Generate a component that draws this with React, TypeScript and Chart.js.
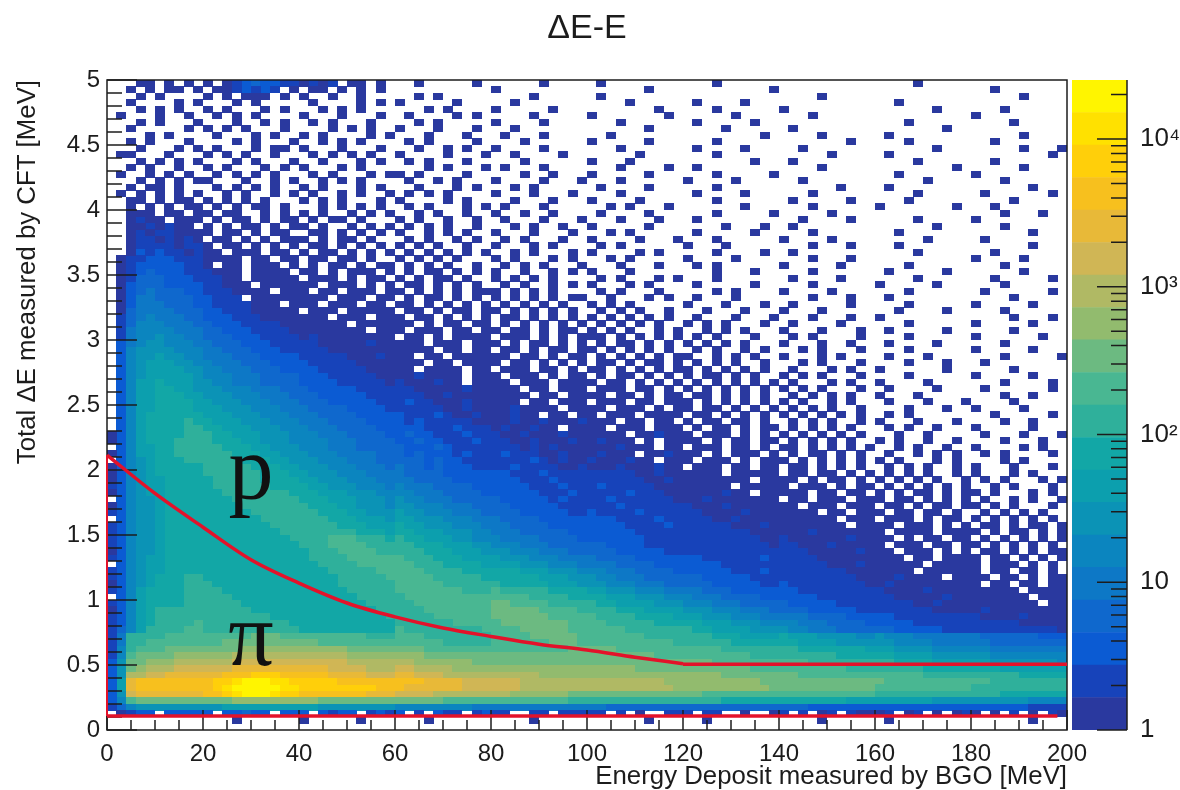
import React, { useEffect, useRef } from "react";
import { Chart, registerables } from "chart.js";

Chart.register(...registerables);

const TITLE = "\u0394E-E";
const X_TITLE = "Energy Deposit measured by BGO [MeV]";
const Y_TITLE = "Total \u0394E measured by CFT [MeV]";
const FONT = "'Liberation Sans', Arial, sans-serif";
const INK = "#1c1c1c";

// colour bands of the z axis, low to high
const BAND_COLORS = ["#2a399f","#1743ba","#0b5bd3","#0f68cd","#0d78c6","#0b85bf","#0b93b6","#0c9fae","#12a7a6","#2fb09b","#49b792","#6cba81","#92bb6e","#b0b964","#d0b655","#e8b938","#f7c01e","#ffcf0a","#ffe100","#fff500"];
const BAND_EDGES = [1,1.66,2.75,4.57,7.59,12.6,20.9,34.7,57.5,95.5,158,263,437,724,1202,1995,3311,5495,9120,15136,25119];
const BAND_CHARS = "123456789abcdefghijk";
const Z_DECADES = [1,10,100,1000,10000];
const Z_LABELS = ["1","10","10\u00b2","10\u00b3","10\u2074"];
const Z_MINORS = [2,3,4,5,6,7,8,9,20,30,40,50,60,70,80,90,200,300,400,500,600,700,800,900,2000,3000,4000,5000,6000,7000,8000,9000,20000];

const X_TICKS_MAJOR = [0,20,40,60,80,100,120,140,160,180,200];
const X_TICKS_MINOR = [5,10,15,25,30,35,45,50,55,65,70,75,85,90,95,105,110,115,125,130,135,145,150,155,165,170,175,185,190,195];
const Y_TICKS_MAJOR = [0,0.5,1,1.5,2,2.5,3,3.5,4,4.5,5];
const Y_TICKS_MINOR = [0.1,0.2,0.3,0.4,0.6,0.7,0.8,0.9,1.1,1.2,1.3,1.4,1.6,1.7,1.8,1.9,2.1,2.2,2.3,2.4,2.6,2.7,2.8,2.9,3.1,3.2,3.3,3.4,3.6,3.7,3.8,3.9,4.1,4.2,4.3,4.4,4.6,4.7,4.8,4.9];

const CURVE_X = [0,10,20,30,40,50,60,70,80,90,100,110,120];
const CURVE_Y = [2.115,1.82,1.56,1.31,1.13,0.977,0.87,0.785,0.72,0.66,0.615,0.56,0.51];
const FLAT_X = [120,200];
const FLAT_Y = [0.505,0.505];
const FLOOR_X = [0,198];
const FLOOR_Y = [0.108,0.108];
const EDGE_X = [0,0];
const EDGE_Y = [0.108,2.115];

const BIN_X = 2;
const BIN_Y = 0.05;
// one string per row of the histogram, from y=5 down to y=0; one character per 2 MeV bin
const ROWS = [
"...11.1.1. 1.12343322 1212.11.1. ..1.....1. .....1.... .1........ ...1...... .......... ....1..... ..........",
"..1.1.11.1 .1123232.1 .11.1.1.1. .......... 1......... ......1... .........1 .......... .......... ..1.......",
"...1.1.... 1.1.111.1. 1..1..1... ..1.1..... ....1..... .1........ .......... ....1..... .......... .....1....",
"..1....1.1 ...1.1.... .1....1.1. 1.....1... ..1....... ....1..... .1....1... .......... ..1....... ..........",
"...1.1.1.. 1.1...1.1. ..1.1.1... ...1.1.... 1.....1... .......1.. ...1...... 1......... ......1... ...1......",
".1...1..1. .1.1.1.... 1...1...1. .1....1.1. ....1..... 1.......1. .....1.... ...1...... .......... 1.........",
"...1.1...1 ...1..1.1. .1.1...1.. ..1.1..... 1....1.... ...1...... .1.....1.. .......... ...1...... ....1.....",
"..1.....1. 1.1.1...1. ...1.1.1.. 1...1...1. ..1....... ......1... ....1..... .1........ .......1.. ..........",
"....1.1... .1...1.1.. 1.1....1.1 ...1...1.. .1...1.... ..1....... ........1. ....1..... .1........ .....1....",
"..1.1...1. ...1.1...1 ..1.1.1... .1.1....1. ...1...... 1.....1... ...1...... .......1.. ...1...... ..1.......",
"...1...1.1 .1...1.11. 1...1...1. ..1..1.1.. 1....1.... ...1...... .1....1... ..1....... ......1... .....1...1",
".11...1... 1.1.1..1.. .1.1.1.1.. 1....1...1 ..1....1.. .....1.... ...1...... .....1.... .1........ ........1.",
"...1.1.1.1 ...1.1...1 ..1...1.1. .1.1...1.. ...1...... 1...1..... .......1.. .1........ ....1..... ..1.......",
"..1.1..1.. 1.1...1.1. 1...1.1... ...1.1...1 .1...1.... ...1....1. .1........ ....1..... ........1. .....1....",
".1..1.1.1. .1.1.1.1.. .1.1...1.1 1.1....1.. ...1..1... 1.....1... ...1.....1 .......... ..1....... 1.........",
"...1.1.1.1 1...1..1.1 ..1.1.1... .1..1.1... 1....1...1 ...1...... 1....1.... ..1....... .....1.... ...1......",
"..1.11.1.. .1.1.1.1.. 1.1...1.1. ..1...1.1. ..1.1..... .1....1... ...1...... ......1... .1........ ......1...",
".1.1.1.1.1 ..1.1..1.1 .1..1.1..1 .1.1.1.... 1...1...1. ...1...... .1....1... ...1...... ....1..... .1......1.",
"..11.1.11. 1.1.1.1... 1.1.1...1. 1....1.1.. ..1...1... 1....1.... ...1...... .1.....1.. ...1...... ....1.....",
"..1.1.1.11 .1.1.11.1. ..1.1.1.1. .1.1...1.1 .1...1.... ..1.1...1. ......1... ...1...... 1.......1. ..1.......",
"..111.11.1 1.11..1.1. 1.1..1.1.1 ..1.1..1.. 1..1..1... .1....1... ...1.....1 .....1.... .......... ...1...1..",
"..1211.111 .1.11.1.11 .1.11.1... 1.1..1..1. .1...1...1 ...1...1.. .1........ ..1....1.. ....1..... 1.........",
"..1121211. 1.1.11.1.1 1.1..1.1.1 .1.1.1..1. ..1.1..1.. 1.....1... ....1...1. .1........ ......1... ...1......",
"..12122111 1.11.1.11. .11.1.1.1. 1..1.1.1.. 1...1...1. ..1.1..... .1.....1.. ...1...... ..1....... ......1...",
"..12212121 .11.1.1.11 1.1.11.1.. .1.1..1.1. .1.1...1.. 1....1...1 ...1...... 1....1.... .....1.... .1........",
"..12222122 1.11.1.1.1 .11.1.1.1. 1.1.1..1.. 1...1.1... .1.1...... 1...1..... ...1...1.. ..1....... ......1...",
"..13232212 11.111.11. 1.11.1.1.1 .1.1.1.1.1 ..1.1...1. 1....1.1.. ...1....1. .1........ ....1..... ..1.......",
".122333222 1111.11.11 .11.11.1.. 1.1.1.1... 1.1...1.1. ..1.1..... 1....1.... ...1...1.. .......... 1....1....",
".123333322 1.11.111.1 .1.11.1.11 .1.1.1..1. .1.1.1...1 ...1...1.. .1.1...... 1.....1... ...1...... ...1......",
".123433322 2111.1111. 11.1.111.1 .1.11.1.1. 1..1..1.1. 1...1..... ...1...1.. ...1...... .1.....1.. .....1....",
".124443332 2211.11111 .111.1.11. 1.1.11.1.. 1.1.1.1... .1.1...1.1 ...1...... .1....1... ....1..... ..1.....1.",
".134443333 22111.1111 11.111.1.1 .11.1.1.1. .1.1..1.1. 1...1.1... .1.....1.. ...1...... 1.....1... ...1......",
".134544433 2221111.11 1.11.111.1 1.1.1.1.11 1.1.1.1... .1.1...1.. ...1.1.... 1....1.... ...1...... .1......1.",
".135544443 3222.11111 111.111.11 .1.11.1.1. 1.1.1.1.11 ..1...1.1. .1...1.... ...1...1.. .1........ ....1.....",
".135554443 32222111.1 11.111.11. 11.1.1.1.1 .1.1.1.1.. 1.1.1..... 1...1...1. .1.....1.. ...1...... 1.....1...",
".145555444 3322211111 .111.11111 .11.1.11.1 1.1.1.1.1. .1.1.1..1. ..1...1... 1...1..... ..1....1.. ...1......",
".245655544 3332221111 111.111.11 1.11.1.1.1 .11.1.1.1. 1.1.1.1.1. .1...1...1 ...1...1.. 1......... ....1...1.",
".246665554 4333222211 11111.1111 11.1.11.11 .1.1.1.1.1 .1.1.1.1.. 1.1.1...1. .1....1... ...1...... 1.....1...",
".256666555 4433322221 1111111.11 1.111.11.1 1.11.1.11. 1.1.1..1.1 ..1.1.1... 1...1...1. .1.....1.. ....1.....",
".256676655 4443332222 1211111111 .11.1.1111 .111.1.1.1 11.1.1.1.1 .1.1...1.. .1.1....1. ...1...... 1......1..",
".356776665 5444333222 2211111211 111.111.11 1.1.11.1.1 .1.11.1.1. 1.1.1.1... 1...1..1.. .1....1... ...1......",
".367777666 5544433322 2221111111 1111.11.11 .11.1.11.1 1.1.1.1.1. .1.1..1.1. ..1.1...1. ...1...... 1.....1...",
".367787766 5554443333 2222211121 11.11.1111 11.11.1.11 .1.1.1.1.1 1..1.1.1.. 1...1.1... .1...1.... ...1.....1",
".367888776 6555444333 3222221111 111.11.111 1.11.1.1.1 .11.1.11.1 .1.1.1..1. ..1.1...1. ...1...1.. .1........",
".367888877 6655544433 3322222111 11.1111.11 .111.11.1. 11.1.1.1.1 1.1.1.1.1. .1...1.1.. 1......1.. ....1.....",
".367888887 6665554444 3332222211 1121111.11 1.111.1.11 .1.11.1.1. 1.11.1.1.. 1.1.1...1. ...1...... 1.....1...",
".368898887 7665554444 3333222221 2111211.11 11.111.111 1.11.1.1.1 .1.1.1.1.1 .1...1.1.. 1....1.... ...1....1.",
".368899887 7766655544 4333332222 2211111211 111.11.111 .111.11.1. 1.1.1.1.1. 1.1.1...1. .1....1... .1......1.",
".368899988 7776665554 4433333222 2221121111 1111.11.11 11.11.1.11 .11.1.1.1. .1.1.1.1.. 1...1..... ...1..1...",
".368899998 8777666555 4443333322 2322111211 111.11.111 .111.11.11 1.1.1.1.1. 1.1..1.1.. .1...1...1 ....1.....",
".368899998 8877766655 5444433332 2222211211 1121111.11 11.111.1.1 1.11.1.1.1 .1.1.1..1. ...1...1.. 1....1....",
".368999999 8887776665 5544443333 3222321121 11211.11.1 1.111.1111 .11.1.1.1. 1.1.1.1.1. .1.1...... ..1.....1.",
".3689999a9 9888777666 5554444333 3232222211 1121121112 111.11.11. 1.11.11.1. .1.1.1..1. 1...1...1. ...1..1...",
".3689999aa 9988877766 6555444433 3332223222 1211211.11 11.111.111 .1.11.1.11 .1.1.1.1.. .1.1..1... 1.....1...",
"13689999aa a998887776 6655544443 3433222322 2112111211 1111.11211 1.111.1.1. 1.1.1.1.1. ..1..1.... .1...1...1",
"1368999aaa a999887776 6665554444 3343322232 2211211121 12111.1.11 11.1.11.11 .1.1.1.1.. 1.1..1..1. ...1...1..",
".368899aaa aa99988777 6665554444 4333432222 2221212111 1112111.11 .111.11.1. 11.1.1.1.1 ..1.1..1.. 1....1.1..",
"1368899aaa aaa9998877 7666555544 4343332322 2322211211 12111.1121 11.1.111.1 .1.11.1.1. .1..1.1.1. .1.1....1.",
".3678999aa aaaa999887 7766655544 4443433222 2222321211 2111211.11 1.111.1.11 1.1.1.1.1. 1.1...1.1. ...1.1....",
"1367899999 aaaaa99988 7776665554 5443433322 2232222112 1112111211 .111.11.11 .11.1.1.1. .1.1.1..1. 1...1...1.",
"1367899999 aaaaaa9998 8777666555 5444433333 3322232222 2222211211 1111.11111 .11.11.1.1 .1.1.1..1. 1...1.1...",
"1367889999 9aaaaa9999 8877766655 5544443333 3332223222 2222221121 1111111.11 11.1.11.1. 1.1.1.1..1 .1.1...1.1",
"2367889999 9aaaaaa999 9887776665 6555444433 3333222322 2322222111 11111.1111 1.111.1.11 .1.1.1.1.1 ..1.1...1.",
"1367889999 99aaaaaaa9 9988877766 6655544443 3333322232 2222322211 1111211.11 111.11.11. 1.1.11.1.1 1.1...1.1.",
".367789999 999aaaaaaa 9998887776 7665554444 4333332322 2232222221 1121111111 .11.111.11 1.11.1.1.1 .1..1.1..1",
"1367789999 9999aaaaaa a999887776 7766655544 4433333222 2223222222 2111211111 11.111.111 .11.1.11.1 1.1.1...1.",
"2367789999 99999aaaaa aa99988777 8776665554 4443333322 3222232222 2211112111 1111.11.11 1.11.11.1. .1.1.1.1..",
".367789999 999999aaaa aaa9998887 8877766655 5444433333 3332222322 2221121111 111111.111 .111.1.11. 1.1.1.1.1.",
"2367789999 9999999aaa aaaa999888 9887776665 5544443333 3333222232 2222211121 1111111.11 11.111.1.1 .11.1.11.1",
"2367789999 99999999aa aaaaaa9998 9988877766 5554444433 3333322222 2222222111 1112111111 1.1111.111 1.1.11.1.1",
"2367789999 999999999a aaabbbaaa9 a998887766 6555544443 3333332222 2222222211 2111111211 11.1.11.11 .1.1.1.1.1",
"2367789999 9999999999 aaabbbbaaa aa99988877 6665554444 4433332222 2222222221 2211121111 1.111.11.1 1.1.1.1.1.",
"1367789999 9999999999 9aaabbbbaa aaa9998887 7766655544 4443333322 2222222222 2221111121 11.111.1.1 .11.1.1.11",
"2367889999 9999999999 9aaaabbbbb baaa999888 8777666555 5444433333 3322222232 2222111111 111.11.111 1.11.1.1.1",
".367889999 9999999999 99aaaabbbb bbaaa99998 8887776665 5554444333 3333222222 2222211121 11111.1111 1.111.1.1.",
"2367889999 9999999999 999aaaaabb bbbaaaa999 9998887776 6655544443 3333322232 2222222111 1111.11111 1.11.11.1.",
"23678999aa 9999999999 9999aaaaab bbbbaaaaa9 9999988877 7665554444 4433333222 2222222211 1121111.11 11.11.1.11",
"13678999aa a999999999 9999aaaaaa bbbbbaaaaa a999998887 7766655544 4443333322 3222222221 1211111111 1.11.11.11",
"23689999aa aa99999999 99999aaaaa bbbbbbbaaa baaaaa9999 8877766655 5544433333 3322222222 2111121111 11111.1111",
".3689999aa aaa9999999 999999aaaa abbbbbbbbb bbbbaaaa99 9988877766 6555444433 3333222222 2211111211 111111.111",
"23689999aa aaaa999999 9999999aaa aabbbbbbbb ccbbbbaaaa a998888777 6665554444 4333332222 2222112111 1111111.11",
"13689aaaaa aaaaa99999 99999999aa aaabbbbbbb cccccbbbba aaa9998888 7776665554 4443333322 2222221111 1211111111",
"23689aaaaa aaaaaaa999 999999999a aaaabbbbbb ccccccbbbb baaaa99998 8877766655 5554444333 3322222222 2111121111",
"23689aaaab aaaaaaaaa9 9999999999 aaaaaabbbb bcccccccbb bbaaaaa999 9988877766 6655544443 3333222222 2222211111",
"2468aaaabb aaaaaaaaaa 9999999999 baaaaaaaab bbbcccccbb bbbbaaaaaa a998888777 7665554444 4433333222 2222222221",
"25aaaabbbb bbbbbcccbb bbbbbbbaaa bbbaaaaaaa bbbbcccccb bbbbbbaaaa aaa9998888 9888777766 7666555555 5444444333",
"25aabbbbbb bbcccccccc ccbbbbbbbb bbbbbaaaaa bbbbbbcccb bbbbbbbbba aaaaa99999 9988887777 7766665555 5544444444",
"26abbbcccc ccccdddddd dddddccccc cccbbbbbbb bbbbbbbbcc cccbbbbbbb bbbbaaaaaa aa99999998 8877776666 6655555555",
"26bccccddd dddeeeeeee eeeeeddddd dddccccccc cccccccccc cccccccbbb bbbbbbbaaa aaaaaa9999 9988887777 7766666666",
"37ccdddeee eeefffffff fffffeeeee eeddddddcc cccccccccc cccccccccc cccbbbbbbb bbbaaaaaaa aa99998888 8877777776",
"37cdeeefff fffggggggg gggffffeee ffeeeedddd dddddddddd dddddccccc cccccccbbb bbbbbbbaaa aaaaa99999 9998888888",
"37eeffgggg gghhhiiihh hhhggggfff ggfffeeeee eeeeeddddd dddddddddd ddddcccccc ccbbbbbbbb bbbbbaaaaa aaaaa99999",
"38ghhhhhhh hiijkkkjji iiiihhhhhh hhhggggfff fffeeeeeee eeeeeeeedd ddddddddcc cccccccccc cbbbbbbbbb bbaaaaaaaa",
"38ghhhhhhh hijkkkkkjj iiiiiiiihh hggggggfff fffeeeeeee eeeeeeeeed dddddddddc cccccccccc bbbbbbbbbb aaaaaaaaaa",
"37fggggggg hhijkkkjii hhhhhhhggg ffffeeeeee eeddddddcc cccccccccc ccbbbbbbbb bbbbbbbbbb aaaaaaaaaa aaa9999999",
"36bccccccc cccddddddd ddcccccccc cccccbbbbb bbbbbbbbaa aaaaaaaaaa aaaa999999 9999999888 8888887777 7777776666",
"2467777777 7788888888 8877777777 6666666655 5555555555 5544444444 4444444444 4443333333 3333333333 3333332222",
".1233.3333 3.33433.33 3.3233.232 3.2.322.23 22..22.222 22.2.1..22 2.22..1..1 2.2.12.211 12.12.1.12 1.1.2.1.21",
".......... ...1...... 1.....1... ...1...... ....1..... ......1... ..1....... ....1..... .1........ ......1...",
".......... .......... .......... .......... .......... .......... .......... .......... .......... ..........",
];

function cellsOfBand(ch: string) {
  const out: { x: number; y: number }[] = [];
  ROWS.forEach((row, r) => {
    const cols = row.replace(/ /g, "");
    for (let c = 0; c < cols.length; c++) {
      if (cols[c] === ch) out.push({ x: (c + 0.5) * BIN_X, y: 5 - (r + 0.5) * BIN_Y });
    }
  });
  return out;
}

function cellImage(color: string) {
  const cv = document.createElement("canvas");
  cv.width = 10;
  cv.height = 7;
  const g = cv.getContext("2d")!;
  g.fillStyle = color;
  g.fillRect(0, 0, 10, 7);
  return cv;
}

function zip(xs: number[], ys: number[]) {
  return xs.map((x, i) => ({ x, y: ys[i] }));
}

const RED = "#e3122a";
function redLine(xs: number[], ys: number[], width: number) {
  return { type: "line", data: zip(xs, ys), borderColor: RED, borderWidth: width, pointRadius: 0, showLine: true, fill: false, order: 0, clip: false, cubicInterpolationMode: "monotone" };
}

const axesPlugin = {
  id: "rootAxes",
  afterDatasetDraw(chart: any, args: any) {
    if (args.index !== 0) return;
    const { ctx, chartArea: a, scales } = chart;
    const sx = scales.x, sy = scales.y;
    ctx.save();
    ctx.strokeStyle = INK;
    ctx.lineWidth = 1.5;
    ctx.beginPath();
    const vTick = (v: number, len: number) => { const p = sx.getPixelForValue(v); ctx.moveTo(p, a.bottom); ctx.lineTo(p, a.bottom - len); };
    const hTick = (v: number, len: number) => { const p = sy.getPixelForValue(v); ctx.moveTo(a.left, p); ctx.lineTo(a.left + len, p); };
    X_TICKS_MAJOR.forEach((v) => vTick(v, 20));
    X_TICKS_MINOR.forEach((v) => vTick(v, 10));
    Y_TICKS_MAJOR.forEach((v) => hTick(v, 30));
    Y_TICKS_MINOR.forEach((v) => hTick(v, 15));
    ctx.stroke();
    ctx.strokeRect(a.left, a.top, a.right - a.left, a.bottom - a.top);
    ctx.fillStyle = "#111";
    ctx.font = "90px 'Liberation Serif', serif";
    ctx.textAlign = "center";
    ctx.textBaseline = "alphabetic";
    ctx.fillText("p", sx.getPixelForValue(30), sy.getPixelForValue(1.78));
    ctx.fillText("\u03c0", sx.getPixelForValue(30), sy.getPixelForValue(0.5));
    ctx.restore();
  },
};

const barAxisPlugin = {
  id: "barAxis",
  afterDatasetsDraw(chart: any) {
    const { ctx, chartArea: a, scales } = chart;
    const z = scales.y;
    ctx.save();
    ctx.strokeStyle = INK;
    ctx.lineWidth = 1.5;
    ctx.beginPath();
    ctx.moveTo(a.right, a.top);
    ctx.lineTo(a.right, a.bottom);
    Z_DECADES.forEach((v) => { const p = z.getPixelForValue(v); ctx.moveTo(a.right, p); ctx.lineTo(a.right - 30, p); });
    Z_MINORS.forEach((v) => { const p = z.getPixelForValue(v); ctx.moveTo(a.right, p); ctx.lineTo(a.right - 16, p); });
    ctx.stroke();
    ctx.restore();
  },
};

export default function App() {
  const mainRef = useRef<HTMLCanvasElement>(null);
  const barRef = useRef<HTMLCanvasElement>(null);

  useEffect(() => {
    const bands = BAND_COLORS.map((color, i) => ({
      label: "band " + (i + 1),
      data: cellsOfBand(BAND_CHARS[i]),
      pointStyle: cellImage(color),
      pointRadius: 5,
      pointHoverRadius: 5,
      showLine: false,
      order: 2,
    }));
    const main = new Chart(mainRef.current!, {
      type: "scatter",
      data: {
        datasets: [
          ...bands,
          redLine(CURVE_X, CURVE_Y, 3.5),
          redLine(FLAT_X, FLAT_Y, 3.5),
          redLine(FLOOR_X, FLOOR_Y, 3.5),
          redLine(EDGE_X, EDGE_Y, 2),
        ] as any,
      },
      options: {
        animation: false,
        responsive: false,
        events: [],
        parsing: false,
        layout: { padding: { left: 0, top: 0, right: 113, bottom: 0 } },
        plugins: {
          legend: { display: false },
          tooltip: { enabled: false },
          title: { display: true, text: TITLE, color: INK, font: { family: FONT, size: 34, weight: "normal", lineHeight: 1 }, fullSize: false, padding: { top: 12, bottom: 34 } },
        },
        scales: {
          x: {
            type: "linear", min: 0, max: 200,
            afterFit: (s: any) => { s.height = 60; },
            afterBuildTicks: (s: any) => { s.ticks = X_TICKS_MAJOR.map((value) => ({ value })); },
            grid: { display: false, drawTicks: false },
            border: { display: false },
            ticks: { color: INK, font: { family: FONT, size: 24 }, padding: 10, maxRotation: 0, autoSkip: false },
            title: { display: true, text: X_TITLE, align: "end", color: INK, font: { family: FONT, size: 25.8, lineHeight: 1 }, padding: { top: 0, bottom: 0 } },
          },
          y: {
            type: "linear", min: 0, max: 5,
            afterFit: (s: any) => { s.width = 107; },
            afterBuildTicks: (s: any) => { s.ticks = Y_TICKS_MAJOR.map((value) => ({ value })); },
            grid: { display: false, drawTicks: false },
            border: { display: false },
            ticks: { color: INK, font: { family: FONT, size: 24 }, padding: 7, autoSkip: false, callback: (v: any) => String(v) },
            title: { display: true, text: Y_TITLE, align: "end", color: INK, font: { family: FONT, size: 25.8, lineHeight: 1 }, padding: { top: 15, bottom: 0 } },
          },
        },
      } as any,
      plugins: [axesPlugin],
    });

    const bar = new Chart(barRef.current!, {
      type: "bar",
      data: {
        labels: ["z"],
        datasets: BAND_COLORS.map((color, i) => ({
          label: "z" + i,
          data: [[BAND_EDGES[i], BAND_EDGES[i + 1]]],
          backgroundColor: color,
          borderWidth: 0,
          barPercentage: 1,
          categoryPercentage: 1,
          grouped: false,
        })) as any,
      },
      options: {
        animation: false,
        responsive: false,
        events: [],
        layout: { padding: { left: 12, top: 80, right: 0, bottom: 60 } },
        plugins: { legend: { display: false }, tooltip: { enabled: false } },
        scales: {
          x: { display: false },
          y: {
            type: "logarithmic", position: "right", min: 1, max: 25119,
            afterFit: (s: any) => { s.width = 53; },
            afterBuildTicks: (s: any) => { s.ticks = Z_DECADES.map((value) => ({ value })); },
            grid: { display: false, drawTicks: false },
            border: { display: false },
            ticks: {
              color: INK, font: { family: FONT, size: 26 }, padding: 13, autoSkip: false,
              callback: (v: any) => { const i = Z_DECADES.indexOf(Number(v)); return i >= 0 ? Z_LABELS[i] : ""; },
            },
          },
        },
      } as any,
      plugins: [barAxisPlugin],
    });

    return () => {
      main.destroy();
      bar.destroy();
    };
  }, []);

  return (
    <div style={{ position: "absolute", left: 0, top: 0, width: 1180, height: 790, background: "#fff", filter: "blur(0.5px)" }}>
      <canvas ref={mainRef} width={1180} height={790} style={{ position: "absolute", left: 0, top: 0 }} />
      <canvas ref={barRef} width={120} height={790} style={{ position: "absolute", left: 1060, top: 0 }} />
    </div>
  );
}
